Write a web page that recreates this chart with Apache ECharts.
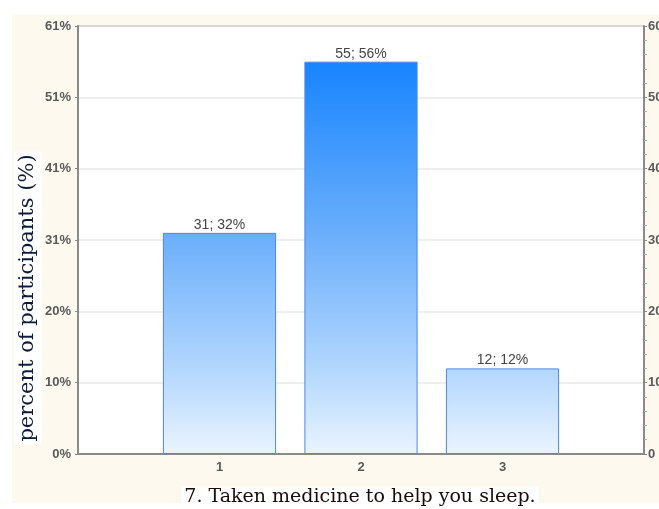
<!DOCTYPE html>
<html>
<head>
<meta charset="utf-8">
<script src="https://cdn.jsdelivr.net/npm/echarts@6/dist/echarts.min.js"></script>
<style>
html,body{margin:0;padding:0;background:#fff;}
#bg{position:absolute;left:12px;top:15px;width:647px;height:488px;background:#fdf9ef;}
#c{position:absolute;left:0;top:0;width:659px;height:509px;}
</style>
</head>
<body>
<div id="bg"></div>
<div id="c"></div>
<script>
var categories = ['0', '1', '2', '3', '4'];
var counts = ['-', 31, 55, 12, '-'];
var percents = ['-', 32, 56, 12, '-'];
var total = 98;
var yTicks = [0, 10, 20, 30, 40, 50, 60];
var xTitle = '7. Taken medicine to help you sleep.';
var yTitle = 'percent of participants (%)';

var chart = echarts.init(document.getElementById('c'), null, {renderer: 'canvas'});
var grad = {
  type: 'linear', global: true, x: 0, y: 26, x2: 0, y2: 454,
  colorStops: [
    {offset: 0, color: '#0a7cff'},
    {offset: 0.084, color: '#1784ff'},
    {offset: 0.484, color: '#6aaefb'},
    {offset: 0.804, color: '#b3d7fd'},
    {offset: 1, color: '#eaf4ff'}
  ]
};
var labelFont = {color: '#5a5a5a', fontSize: 13, fontFamily: 'Liberation Sans', fontWeight: 'bold'};
chart.setOption({
  animation: false,
  backgroundColor: 'transparent',
  grid: {left: 78, right: 15, top: 26, bottom: 55, containLabel: false, outerBoundsMode: 'none',
    show: true, backgroundColor: '#fff', borderColor: '#8a8a8a', borderWidth: 1.5},
  graphic: [{
    type: 'text', x: 28, y: 298, rotation: Math.PI / 2, z: 100,
    style: {text: yTitle, fontFamily: 'DejaVu Serif', fontSize: 21, fill: '#0d1b3a',
      align: 'center', verticalAlign: 'middle', backgroundColor: '#fff', padding: [3, 3, 3, 3]}
  }, {
    type: 'text', x: 360, y: 497, z: 100,
    style: {text: xTitle, fontFamily: 'DejaVu Serif', fontSize: 19, fill: '#1a0a0a',
      align: 'center', verticalAlign: 'middle', backgroundColor: '#fff', padding: [1, 3, 1, 3]}
  }],
  xAxis: {
    type: 'category', data: categories, boundaryGap: false,
    axisLine: {lineStyle: {color: '#8a8a8a', width: 2}},
    axisTick: {inside: true, length: 3, lineStyle: {color: '#666'}, interval: function (i) { return i > 0 && i < 4; }},
    axisLabel: Object.assign({margin: 7, interval: function (i) { return i > 0 && i < 4; }}, labelFont),
    splitLine: {show: false}
  },
  yAxis: [{
    type: 'value', min: 0, max: 60, interval: 10, position: 'left',
    axisLine: {show: true, lineStyle: {color: '#8a8a8a', width: 2}},
    axisTick: {show: true, length: 3, lineStyle: {color: '#888'}},
    axisLabel: Object.assign({margin: 7, formatter: function (v) { return Math.round(v / total * 100) + '%'; }}, labelFont),
    splitLine: {show: true, lineStyle: {color: '#e8e8e8', width: 1.5}}
  }, {
    type: 'value', min: 0, max: 60, interval: 10, position: 'right',
    axisLine: {show: true, lineStyle: {color: '#8a8a8a', width: 2}},
    axisTick: {show: true, length: 3, lineStyle: {color: '#888'}},
    minorTick: {show: true, splitNumber: 5, length: 3, lineStyle: {color: '#aaa'}},
    axisLabel: Object.assign({margin: 4}, labelFont),
    splitLine: {show: false}
  }],
  series: [{
    type: 'bar', data: counts, barWidth: '80%',
    itemStyle: {color: grad, borderColor: '#4f86e6', borderWidth: 1},
    label: {show: true, position: 'top', distance: 1, color: '#444', fontSize: 14, fontFamily: 'Liberation Sans',
      formatter: function (p) { return counts[p.dataIndex] + '; ' + percents[p.dataIndex] + '%'; }}
  }]
});
</script>
</body>
</html>
